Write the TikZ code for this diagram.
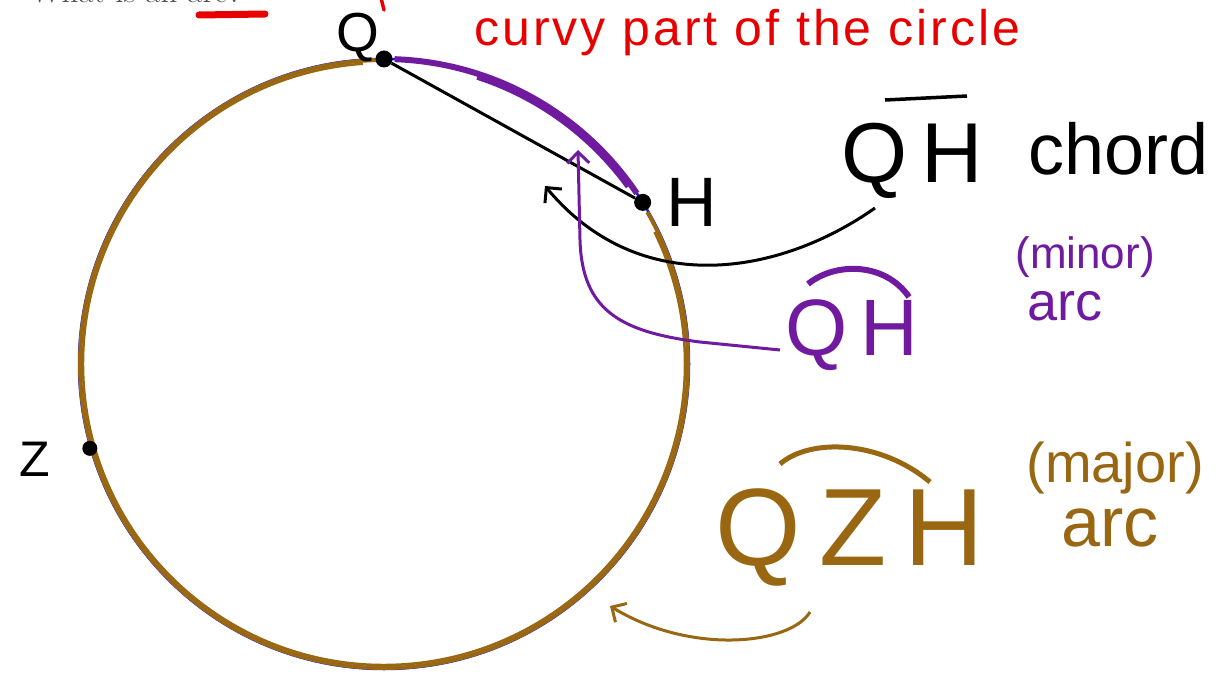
\documentclass[tikz,border=0pt]{standalone}
\usepackage{fontspec}
\newfontfamily\hand{Liberation Sans}
\newfontfamily\handwide{Liberation Sans}[LetterSpace=6]
\usetikzlibrary{arrows.meta}
\definecolor{brownink}{RGB}{153,102,17}
\definecolor{purpleink}{RGB}{112,26,160}
\definecolor{redink}{RGB}{232,0,0}
\definecolor{blueink}{RGB}{20,20,255}
\newcommand\fsz[1]{\fontsize{#1}{#1}\selectfont}
\begin{document}
\begin{tikzpicture}[x=1pt,y=-1pt,
  lab/.style={inner sep=0pt, anchor=base},
  dot/.style={circle, fill=black, inner sep=0pt, minimum size=17pt},
  barb/.style={-{Straight Barb[length=11pt,width=22pt]}, line width=3pt}]
\useasboundingbox (0,0) rectangle (1223,679);
\clip (0,0) rectangle (1223,679);
% heading (cut off at the top)
\node[lab, anchor=base west, text=black!70, font=\fsz{33}] (title) at (30,3) {What is an arc?};
\draw[redink, line width=7pt, line cap=round] (199,15) -- (265,14);
\draw[redink, line width=3.5pt, line cap=round] (381,-2) -- (384,10);
\node[lab, anchor=base west, text=redink, font=\handwide\fsz{50}] (curvy) at (474,46) {curvy part of the circle};
% circle
\coordinate (O) at (384,364);
\draw[blueink, line width=2.5pt] (O) circle (305);
\draw[brownink, line width=4pt] ([shift={(-90:304)}]O) arc[start angle=-90, end angle=-390, radius=304];
\draw[brownink, line width=2.5pt] ([shift={(-94:301)}]O) arc[start angle=-94, end angle=-386, radius=301];
\draw[purpleink, line width=6pt] ([shift={(-88:305)}]O) arc[start angle=-88, end angle=-34, radius=305];
\draw[purpleink, line width=4pt] ([shift={(-72:301)}]O) arc[start angle=-72, end angle=-36, radius=301];
% points
\node[dot] (Q) at ([shift={(-90:305)}]O) {};
\node[dot] (H) at ([shift={(-32:305)}]O) {};
\node[dot, minimum size=15pt] (Z) at ([shift={(-196:306)}]O) {};
\draw[black, line width=3pt] (Q) -- (H);
% point labels
\node[lab, font=\hand\fsz{55}] (Qlab) at (358,52) {Q};
\node[lab, font=\hand\fsz{70}] (Hlab) at (692,226) {H};
\node[lab, font=\hand\fsz{50}] (Zlab) at (35,476) {Z};
% chord label
\node[lab, font=\hand\fsz{85}] (chordQH) at (912,183) {Q\,H};
\draw[line width=3.5pt] (885,100) -- (967,96);
\node[lab, anchor=base west, font=\hand\fsz{72}] (chord) at (1028,175) {chord};
\coordinate (c1) at (875,208);
\coordinate (c2) at (545,186);
\draw[barb] (c1) .. controls (780,275) and (640,300) .. (c2);
% minor arc label
\node[lab, text=purpleink, font=\hand\fsz{80}] (minQH) at (852,355) {Q\,H};
\draw[purpleink, line width=6pt] (808,284) .. controls (835,262) and (885,262) .. (909,297);
\node[lab, text=purpleink, font=\hand\fsz{44}] (minor) at (1085,268) {(minor)};
\node[lab, text=purpleink, font=\hand\fsz{54}] (minarc) at (1065,320) {arc};
\coordinate (p1) at (780,350);
\coordinate (p2) at (578,150);
\draw[barb, purpleink] (p1) -- (700,342) .. controls (620,332) and (582,310) .. (580,240) -- (p2);
% major arc label
\node[lab, text=brownink, font=\hand\fsz{110}] (QZH) at (850,565) {Q\,Z\,H};
\draw[brownink, line width=5pt] (780,464) .. controls (810,438) and (880,440) .. (930,482);
\node[lab, text=brownink, font=\hand\fsz{56}] (major) at (1115,482) {(major)};
\node[lab, text=brownink, font=\hand\fsz{70}] (majarc) at (1110,546) {arc};
\coordinate (b1) at (810,612);
\coordinate (b2) at (610,606);
\draw[barb, brownink] (b1) .. controls (790,645) and (690,655) .. (b2);
\end{tikzpicture}
\end{document}
